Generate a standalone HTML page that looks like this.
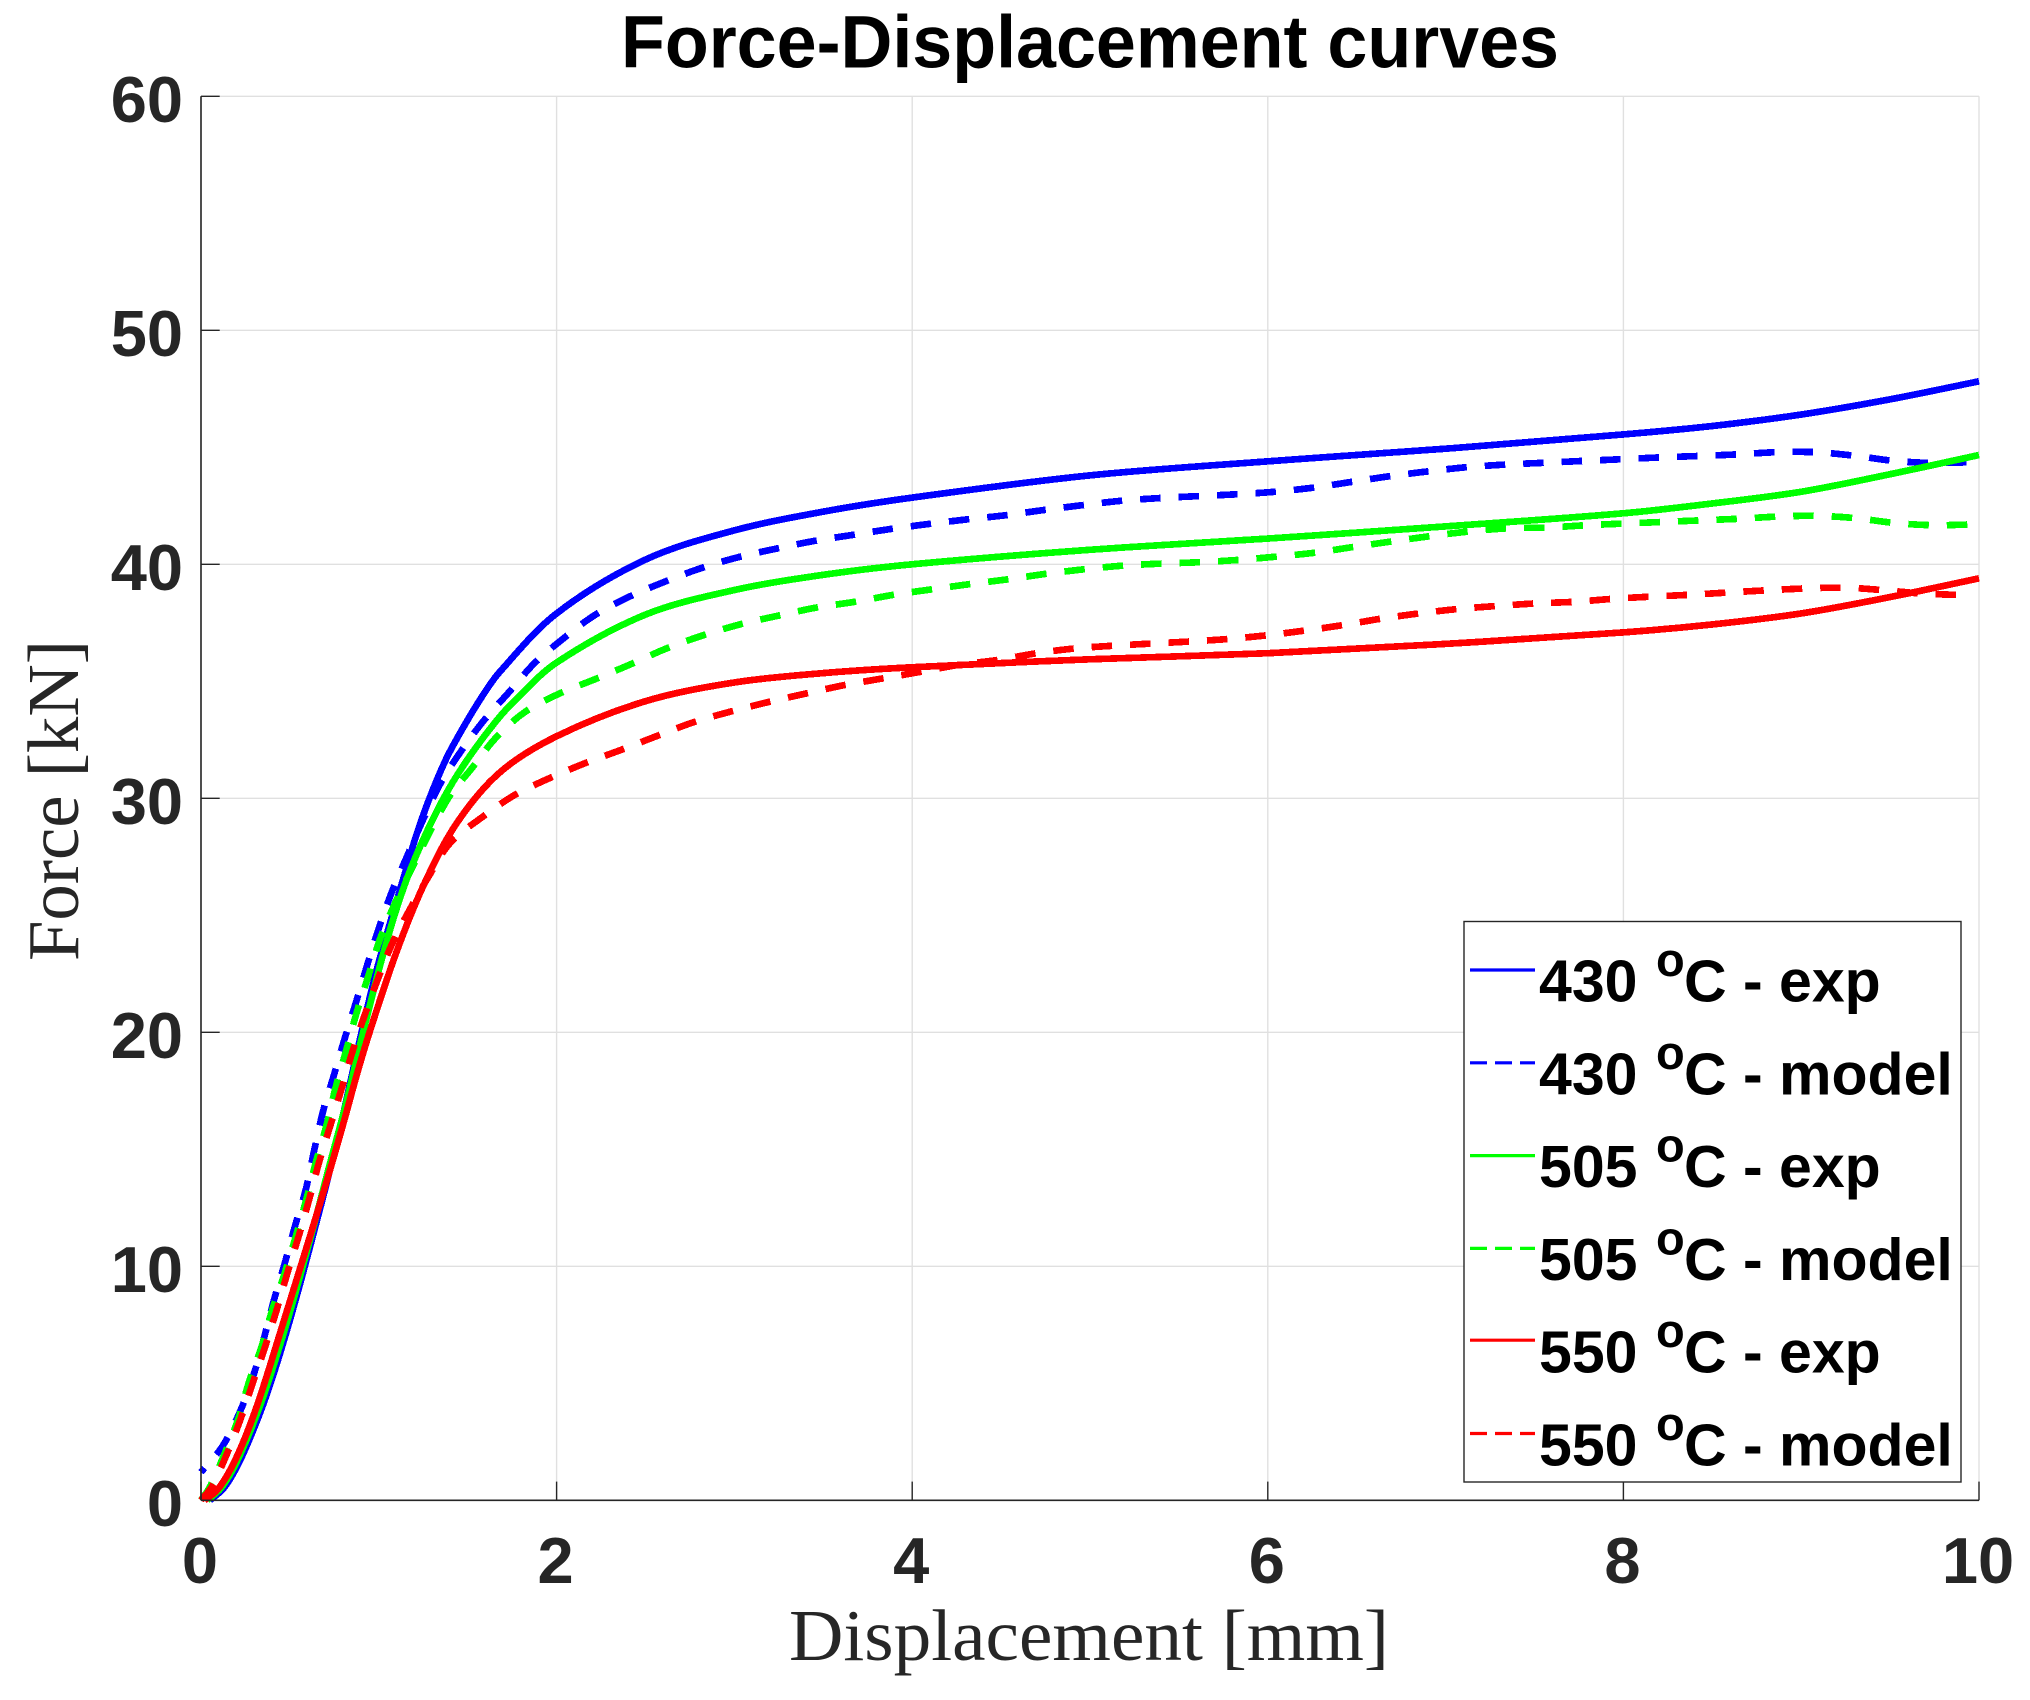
<!DOCTYPE html>
<html lang="en">
<head>
<meta charset="utf-8">
<title>Force-Displacement curves</title>
<style>
html,body{margin:0;padding:0;background:#fff;}
svg{display:block;}
text{font-family:"Liberation Sans",Arial,sans-serif;font-weight:bold;}
.serif{font-family:"Liberation Serif","Times New Roman",serif;font-weight:normal;fill:#262626;}
</style>
</head>
<body>
<svg id="chart" xmlns="http://www.w3.org/2000/svg" width="2030" height="1700" viewBox="0 0 2030 1700">
  <rect x="0" y="0" width="2030" height="1700" fill="#fff"/>
  <g id="grid"></g>
  <g id="curves"></g>
  <g id="axes"></g>
  <text x="621" y="67.5" font-size="74" fill="#000" textLength="938" lengthAdjust="spacingAndGlyphs">Force-Displacement curves</text>
  <text class="serif" x="789" y="1660" font-size="73" textLength="600" lengthAdjust="spacingAndGlyphs">Displacement [mm]</text>
  <text class="serif" transform="translate(78,961) rotate(-90)" x="0" y="0" font-size="73" textLength="321" lengthAdjust="spacingAndGlyphs">Force [kN]</text>

  <g>
    <rect x="1464" y="921.5" width="497" height="560.5" fill="#fff" stroke="#262626" stroke-width="1.4"/>
    <g>
      <line x1="1470" x2="1535" y1="970" y2="970" stroke="#0000ff" stroke-width="3.2"/>
      <text x="1539" y="1001.5" font-size="59" fill="#000">430<tspan x="1656" dy="-25.5" font-size="47">o</tspan><tspan x="1684" dy="25.5">C - exp</tspan></text>
    </g>
    <g>
      <line x1="1470" x2="1535" y1="1062.8" y2="1062.8" stroke="#0000ff" stroke-width="3.2" stroke-dasharray="17 8"/>
      <text x="1539" y="1094.3" font-size="59" fill="#000">430<tspan x="1656" dy="-25.5" font-size="47">o</tspan><tspan x="1684" dy="25.5">C - model</tspan></text>
    </g>
    <g>
      <line x1="1470" x2="1535" y1="1155.6" y2="1155.6" stroke="#00ff00" stroke-width="3.2"/>
      <text x="1539" y="1187.1" font-size="59" fill="#000">505<tspan x="1656" dy="-25.5" font-size="47">o</tspan><tspan x="1684" dy="25.5">C - exp</tspan></text>
    </g>
    <g>
      <line x1="1470" x2="1535" y1="1248.4" y2="1248.4" stroke="#00ff00" stroke-width="3.2" stroke-dasharray="17 8"/>
      <text x="1539" y="1279.9" font-size="59" fill="#000">505<tspan x="1656" dy="-25.5" font-size="47">o</tspan><tspan x="1684" dy="25.5">C - model</tspan></text>
    </g>
    <g>
      <line x1="1470" x2="1535" y1="1340.2" y2="1340.2" stroke="#ff0000" stroke-width="3.2"/>
      <text x="1539" y="1372.7" font-size="59" fill="#000">550<tspan x="1656" dy="-25.5" font-size="47">o</tspan><tspan x="1684" dy="25.5">C - exp</tspan></text>
    </g>
    <g>
      <line x1="1470" x2="1535" y1="1433.5" y2="1433.5" stroke="#ff0000" stroke-width="3.2" stroke-dasharray="17 8"/>
      <text x="1539" y="1465.5" font-size="59" fill="#000">550<tspan x="1656" dy="-25.5" font-size="47">o</tspan><tspan x="1684" dy="25.5">C - model</tspan></text>
    </g>
  </g>
</svg>
<script>
const xTickValues = [0, 2, 4, 6, 8, 10];
const yTickValues = [0, 10, 20, 30, 40, 50, 60];

const blueExpX = [0.05,0.126,0.2,0.275,0.35,0.425,0.5,0.575,0.65,0.725,0.8,0.873,0.94,1.0,1.08,1.155,1.21,1.285,1.38,1.473,1.585,1.68,2,2.5,3,3.5,4,5,6,7,8,8.5,9,9.5,10];
const blueExpF = [0,0.5,1.4,2.65,4.1,5.8,7.7,9.75,11.9,14.1,16.5,19.0,21.2,23.0,25.1,27.0,28.4,30.0,31.7,33.0,34.4,35.4,37.9,40.2,41.45,42.25,42.85,43.8,44.4,44.94,45.55,45.91,46.4,47.05,47.82];

const blueModelX = [0,0.12,0.22,0.295,0.356,0.41,0.47,0.53,0.59,0.635,0.686,0.746,0.808,0.873,0.935,1.0,1.074,1.16,1.248,1.347,1.454,1.586,1.735,1.875,2.04,2.215,2.41,2.61,2.81,3.02,3.23,3.45,3.66,3.88,4.09,4.31,4.53,4.74,4.95,5.17,5.39,5.6,5.82,6.04,6.26,6.47,6.69,6.9,7.12,7.33,7.56,7.78,7.99,8.21,8.43,8.65,8.86,9.08,9.3,9.51,9.73,9.94,10];
const blueModelF = [1.2,2.3,3.8,5.34,6.98,8.55,10.1,11.75,13.3,14.9,16.61,18.13,19.73,21.31,22.88,24.44,26.01,27.54,29.07,30.64,31.92,33.28,34.56,35.77,36.84,37.83,38.62,39.26,39.83,40.3,40.66,41.0,41.25,41.51,41.72,41.92,42.1,42.32,42.52,42.71,42.83,42.91,42.99,43.1,43.28,43.52,43.77,43.97,44.15,44.26,44.34,44.42,44.49,44.57,44.63,44.7,44.79,44.79,44.64,44.43,44.33,44.36,44.36];

const greenExpX = [0.035,0.11,0.185,0.26,0.335,0.41,0.485,0.56,0.635,0.71,0.817,0.892,0.948,1.005,1.08,1.155,1.23,1.323,1.417,1.53,1.66,1.755,2,2.5,3,3.5,4,5,6,7,8,8.5,9,9.5,10];
const greenExpF = [0,0.5,1.4,2.65,4.1,5.8,7.65,9.65,11.75,13.95,17.0,19.4,21.1,22.8,24.8,26.5,27.9,29.4,30.7,32.0,33.3,34.1,35.8,37.85,38.9,39.55,40.0,40.62,41.1,41.62,42.18,42.6,43.1,43.85,44.67];

const greenModelX = [0,0.05,0.125,0.21,0.27,0.34,0.4,0.47,0.534,0.594,0.647,0.703,0.761,0.82,0.877,0.943,1.01,1.095,1.19,1.39,1.526,1.66,1.824,2.02,2.22,2.42,2.62,2.83,3.04,3.25,3.46,3.68,3.89,4.11,4.32,4.54,4.75,4.97,5.18,5.4,5.62,5.84,6.05,6.27,6.48,6.7,6.92,7.13,7.35,7.57,7.79,8.0,8.22,8.44,8.66,8.87,9.09,9.31,9.52,9.74,9.95,10];
const greenModelF = [0,0.57,1.85,3.49,5.06,6.55,8.12,9.69,11.3,12.9,14.47,15.95,17.75,19.32,20.88,22.45,24.05,25.58,27.08,30.0,31.31,32.6,33.7,34.49,35.1,35.74,36.41,36.98,37.45,37.81,38.15,38.4,38.69,38.93,39.15,39.36,39.59,39.79,39.94,40.03,40.09,40.19,40.33,40.5,40.74,40.98,41.21,41.4,41.54,41.57,41.67,41.74,41.81,41.88,41.95,42.04,42.07,41.97,41.77,41.67,41.7,41.7];

const redExpX = [0.02,0.09,0.163,0.238,0.313,0.388,0.463,0.573,0.65,0.725,0.808,0.873,0.948,1.098,1.25,1.435,1.68,2,2.5,3,3.5,4,5,6,7,8,8.5,9,9.5,10];
const redExpF = [0,0.43,1.28,2.5,4.0,5.75,7.6,10.3,12.2,14.1,16.3,18.1,20.0,23.4,26.25,28.9,31.1,32.65,34.15,34.95,35.35,35.6,35.94,36.2,36.6,37.09,37.43,37.9,38.6,39.4];

const redModelX = [0,0.06,0.14,0.22,0.29,0.36,0.425,0.485,0.55,0.61,0.665,0.737,0.793,0.855,0.924,1.0,1.08,1.183,1.276,1.4,1.586,1.764,1.957,2.16,2.37,2.57,2.77,2.99,3.2,3.41,3.62,3.84,4.05,4.26,4.48,4.7,4.91,5.13,5.34,5.56,5.78,6.0,6.21,6.43,6.64,6.86,7.07,7.29,7.51,7.73,7.95,8.16,8.38,8.6,8.81,9.03,9.25,9.47,9.68,9.9,9.95];
const redModelF = [0,0.57,1.88,3.42,4.99,6.55,8.12,9.69,11.3,12.9,14.47,16.25,17.65,19.25,20.81,22.38,23.87,25.37,26.6,28.08,29.22,30.14,30.85,31.5,32.09,32.68,33.25,33.73,34.13,34.49,34.84,35.13,35.41,35.7,35.91,36.2,36.4,36.52,36.61,36.7,36.81,36.97,37.17,37.41,37.68,37.91,38.09,38.22,38.33,38.4,38.53,38.62,38.7,38.8,38.89,38.97,39.0,38.89,38.75,38.69,38.69];

const NS = 'http://www.w3.org/2000/svg';
const scaleX = function (v) { return 201 + v * 177.8; };
const scaleY = function (v) { return 1500.3 - v * 23.4; };

function smoothPath(xs, fs) {
  const p = xs.map(function (x, i) { return [scaleX(x), scaleY(fs[i])]; });
  const n = p.length;
  const t = [0];
  for (let i = 1; i < n; i++) {
    t.push(t[i - 1] + Math.hypot(p[i][0] - p[i - 1][0], p[i][1] - p[i - 1][1]));
  }
  const tan = p.map(function (q, i) {
    const a = Math.max(i - 1, 0), b = Math.min(i + 1, n - 1);
    return [(p[b][0] - p[a][0]) / (t[b] - t[a]), (p[b][1] - p[a][1]) / (t[b] - t[a])];
  });
  let d = 'M' + p[0][0].toFixed(2) + ' ' + p[0][1].toFixed(2);
  for (let i = 0; i < n - 1; i++) {
    const h = (t[i + 1] - t[i]) / 3;
    d += 'C' + (p[i][0] + tan[i][0] * h).toFixed(2) + ' ' + (p[i][1] + tan[i][1] * h).toFixed(2) + ' ' +
      (p[i + 1][0] - tan[i + 1][0] * h).toFixed(2) + ' ' + (p[i + 1][1] - tan[i + 1][1] * h).toFixed(2) + ' ' +
      p[i + 1][0].toFixed(2) + ' ' + p[i + 1][1].toFixed(2);
  }
  return d;
}

function addLine(parent, x1, y1, x2, y2, color, width) {
  const l = document.createElementNS(NS, 'line');
  l.setAttribute('x1', x1);
  l.setAttribute('y1', y1);
  l.setAttribute('x2', x2);
  l.setAttribute('y2', y2);
  l.setAttribute('stroke', color);
  l.setAttribute('stroke-width', width);
  parent.appendChild(l);
  return l;
}

function addLabel(parent, x, y, str, anchor) {
  const t = document.createElementNS(NS, 'text');
  t.setAttribute('x', x);
  t.setAttribute('y', y);
  t.setAttribute('font-size', '65');
  t.setAttribute('fill', '#262626');
  t.setAttribute('text-anchor', anchor);
  t.textContent = str;
  parent.appendChild(t);
  return t;
}

const gridGroup = document.getElementById('grid');
const axesGroup = document.getElementById('axes');
const curvesGroup = document.getElementById('curves');
const gridColor = '#e0e0e0';
const axisColor = '#262626';

xTickValues.forEach(function (v) {
  const g = addLine(gridGroup, scaleX(v), scaleY(60), scaleX(v), scaleY(0), gridColor, 1.4);
  
  
  const tick = addLine(axesGroup, scaleX(v), scaleY(0), scaleX(v), scaleY(0) - 18.7, axisColor, 1.4);
  
  
  const lab = addLabel(axesGroup, scaleX(v) - 1, 1583, String(v), 'middle');
  
  
});

yTickValues.forEach(function (v) {
  const g = addLine(gridGroup, scaleX(0), scaleY(v), scaleX(10), scaleY(v), gridColor, 1.4);
  
  
  const tick = addLine(axesGroup, scaleX(0), scaleY(v), scaleX(0) + 18.7, scaleY(v), axisColor, 1.4);
  
  
  const lab = addLabel(axesGroup, 183, scaleY(v) + 25.7, String(v), 'end');
  
  
});

const xAxisLine = addLine(axesGroup, scaleX(0), scaleY(0), scaleX(10), scaleY(0), axisColor, 1.6);


const yAxisLine = addLine(axesGroup, scaleX(0), scaleY(0), scaleX(0), scaleY(60), axisColor, 1.6);



function addCurve(xs, fs, color, dashed, offset, name) {
  const path = document.createElementNS(NS, 'path');
  path.setAttribute('d', smoothPath(xs, fs));
  path.setAttribute('fill', 'none');
  path.setAttribute('stroke', color);
  path.setAttribute('stroke-width', '6.7');
  path.setAttribute('stroke-linejoin', 'round');
  path.setAttribute('shape-rendering', 'crispEdges');
  if (dashed) {
    path.setAttribute('stroke-dasharray', '20.5 18');
    path.setAttribute('stroke-dashoffset', offset);
  }
  
  
  curvesGroup.appendChild(path);
}

addCurve(blueExpX, blueExpF, '#0000ff', false, 0, 'curve-430-exp');
addCurve(blueModelX, blueModelF, '#0000ff', true, 15, 'curve-430-model');
addCurve(greenExpX, greenExpF, '#00ff00', false, 0, 'curve-505-exp');
addCurve(greenModelX, greenModelF, '#00ff00', true, 0, 'curve-505-model');
addCurve(redExpX, redExpF, '#ff0000', false, 0, 'curve-550-exp');
addCurve(redModelX, redModelF, '#ff0000', true, 0, 'curve-550-model');
</script>
</body>
</html>
